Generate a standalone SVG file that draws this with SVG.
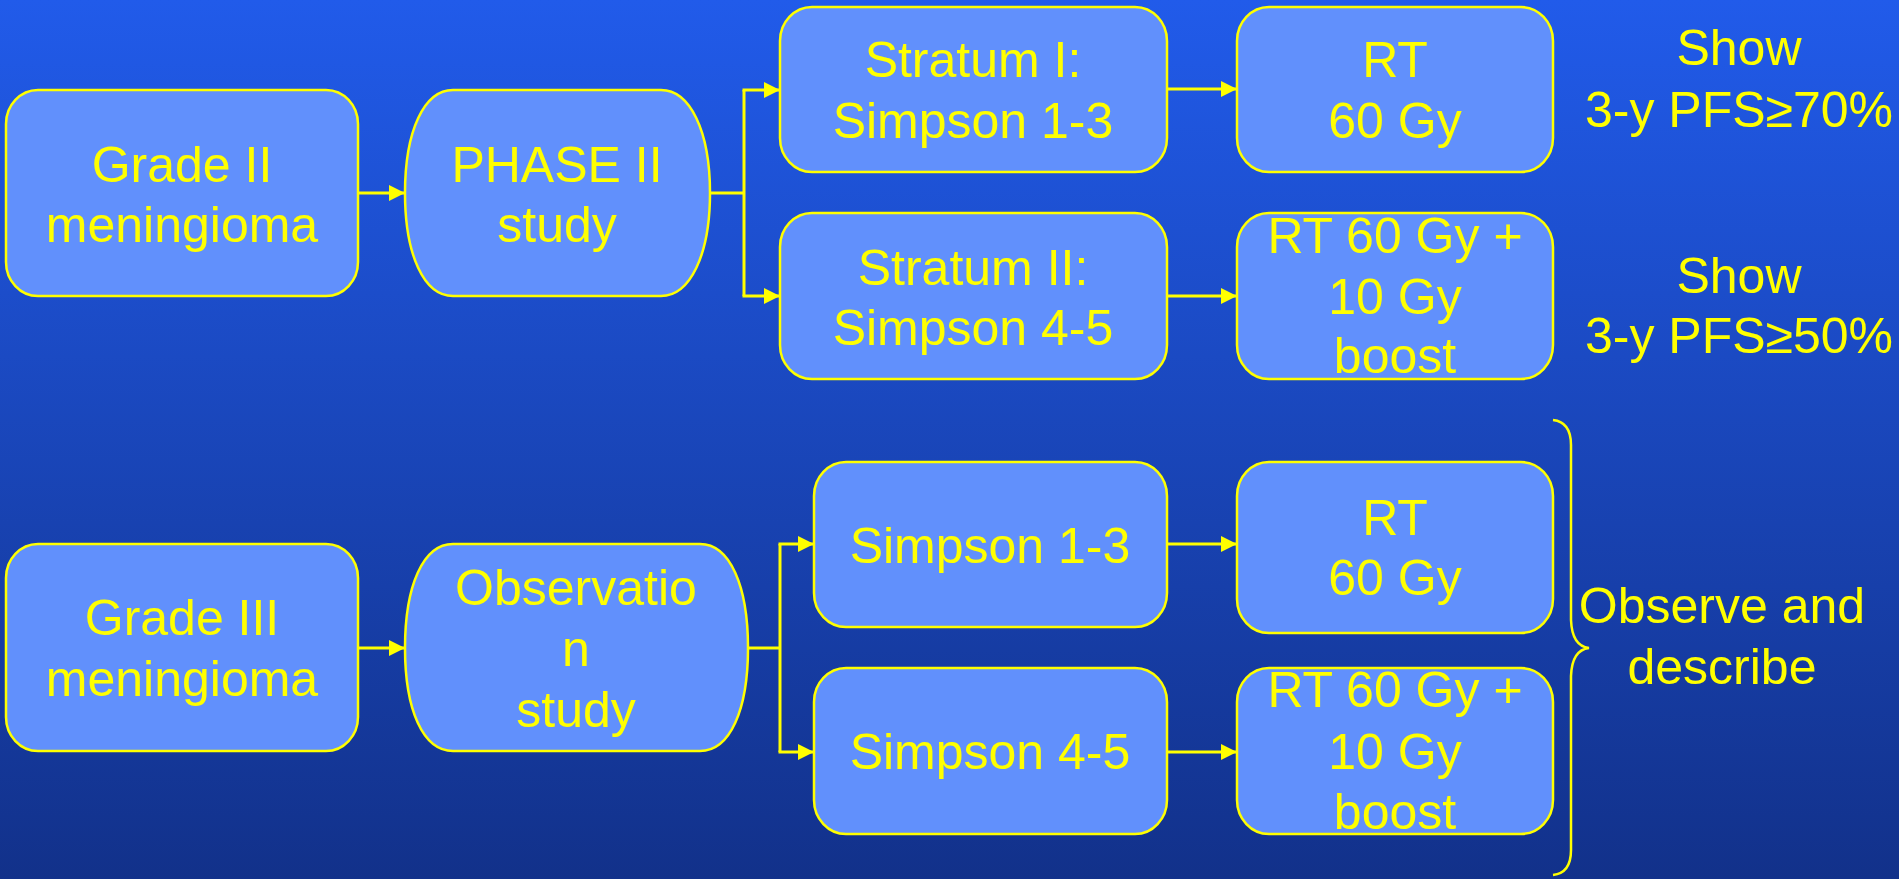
<svg xmlns="http://www.w3.org/2000/svg" width="1899" height="879" viewBox="0 0 1899 879">
<defs>
<linearGradient id="bg" x1="0" y1="0" x2="0" y2="1">
<stop offset="0" stop-color="#215BEA"/>
<stop offset="1" stop-color="#12318A"/>
</linearGradient>
<marker id="arr" viewBox="0 0 10 10" refX="10" refY="5" markerWidth="5.5" markerHeight="5.5" markerUnits="strokeWidth" orient="auto">
<path d="M0,0 L10,5 L0,10 Z" fill="#FFFF00"/>
</marker>
<style>
.box{fill:#6190FC;stroke:#FFFF00;stroke-width:2.5}
.t{font-family:"Liberation Sans",Arial,sans-serif;font-size:50px;fill:#FFFF00;text-anchor:middle}
.c{fill:none;stroke:#FFFF00;stroke-width:3}
</style>
</defs>
<rect x="0" y="0" width="1899" height="879" fill="url(#bg)"/>

<g id="connectors">
<line class="c" x1="358" y1="193" x2="405" y2="193" marker-end="url(#arr)"/>
<polyline class="c" points="710,193 744,193"/>
<polyline class="c" points="744,90 744,296"/>
<line class="c" x1="742.5" y1="90" x2="780" y2="90" marker-end="url(#arr)"/>
<line class="c" x1="742.5" y1="296" x2="780" y2="296" marker-end="url(#arr)"/>
<line class="c" x1="1167" y1="89" x2="1237" y2="89" marker-end="url(#arr)"/>
<line class="c" x1="1167" y1="296" x2="1237" y2="296" marker-end="url(#arr)"/>
<line class="c" x1="358" y1="648" x2="405" y2="648" marker-end="url(#arr)"/>
<polyline class="c" points="748,648 780,648"/>
<polyline class="c" points="780,544 780,752"/>
<line class="c" x1="778.5" y1="544" x2="814" y2="544" marker-end="url(#arr)"/>
<line class="c" x1="778.5" y1="752" x2="814" y2="752" marker-end="url(#arr)"/>
<line class="c" x1="1167" y1="544" x2="1237" y2="544" marker-end="url(#arr)"/>
<line class="c" x1="1167" y1="752" x2="1237" y2="752" marker-end="url(#arr)"/>
</g>

<g id="grade2">
<rect class="box" x="6" y="90" width="352" height="206" rx="32" ry="34"/>
<text class="t" x="182" y="182">Grade II</text>
<text class="t" x="182" y="242">meningioma</text>
</g>
<g id="phase2">
<path class="box" d="M453,90 H661 C690,90 710,131 710,193 C710,255 690,296 661,296 H453 C424,296 405,255 405,193 C405,131 424,90 453,90 Z"/>
<text class="t" x="557" y="182">PHASE II</text>
<text class="t" x="557" y="242">study</text>
</g>
<g id="stratum1">
<rect class="box" x="780" y="7" width="387" height="165" rx="32" ry="34"/>
<text class="t" x="973" y="77">Stratum I:</text>
<text class="t" x="973" y="138">Simpson 1-3</text>
</g>
<g id="stratum2">
<rect class="box" x="780" y="213" width="387" height="166" rx="32" ry="34"/>
<text class="t" x="973" y="285">Stratum II:</text>
<text class="t" x="973" y="345">Simpson 4-5</text>
</g>
<g id="rt1">
<rect class="box" x="1237" y="7" width="316" height="165" rx="32" ry="34"/>
<text class="t" x="1395" y="77">RT</text>
<text class="t" x="1395" y="138">60 Gy</text>
</g>
<g id="rt2">
<rect class="box" x="1237" y="213" width="316" height="166" rx="32" ry="34"/>
<text class="t" x="1395" y="253">RT 60 Gy +</text>
<text class="t" x="1395" y="314">10 Gy</text>
<text class="t" x="1395" y="373">boost</text>
</g>
<g id="show1">
<text class="t" x="1739" y="65">Show</text>
<text class="t" x="1739" y="127">3-y PFS≥70%</text>
</g>
<g id="show2">
<text class="t" x="1739" y="293">Show</text>
<text class="t" x="1739" y="353">3-y PFS≥50%</text>
</g>

<g id="grade3">
<rect class="box" x="6" y="544" width="352" height="207" rx="32" ry="34"/>
<text class="t" x="182" y="635">Grade III</text>
<text class="t" x="182" y="696">meningioma</text>
</g>
<g id="observation">
<path class="box" d="M453,544 H700 C730,544 748,586 748,648 C748,710 730,751 700,751 H453 C423,751 405,710 405,648 C405,586 423,544 453,544 Z"/>
<text class="t" x="576" y="605">Observatio</text>
<text class="t" x="576" y="666">n</text>
<text class="t" x="576" y="727">study</text>
</g>
<g id="simpson13">
<rect class="box" x="814" y="462" width="353" height="165" rx="32" ry="34"/>
<text class="t" x="990" y="563">Simpson 1-3</text>
</g>
<g id="simpson45">
<rect class="box" x="814" y="668" width="353" height="166" rx="32" ry="34"/>
<text class="t" x="990" y="769">Simpson 4-5</text>
</g>
<g id="rt3">
<rect class="box" x="1237" y="462" width="316" height="171" rx="32" ry="34"/>
<text class="t" x="1395" y="535">RT</text>
<text class="t" x="1395" y="595">60 Gy</text>
</g>
<g id="rt4">
<rect class="box" x="1237" y="668" width="316" height="166" rx="32" ry="34"/>
<text class="t" x="1395" y="707">RT 60 Gy +</text>
<text class="t" x="1395" y="769">10 Gy</text>
<text class="t" x="1395" y="829">boost</text>
</g>
<g id="brace">
<path d="M1553,420 Q1571,422 1571,445 L1571,620 Q1572,646 1589,648 Q1572,650 1571,676 L1571,850 Q1571,873 1553,875" fill="none" stroke="#FFFF00" stroke-width="2.5"/>
<text class="t" x="1722" y="623">Observe and</text>
<text class="t" x="1722" y="684">describe</text>
</g>
</svg>
